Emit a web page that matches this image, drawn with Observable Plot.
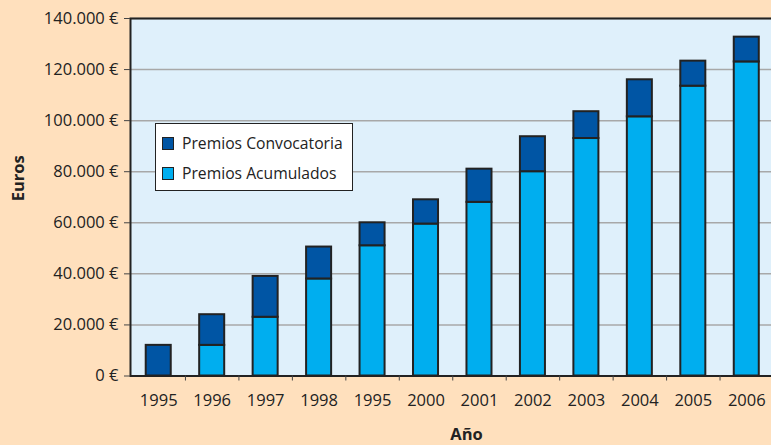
<!DOCTYPE html>
<html>
<head>
<meta charset="utf-8">
<script src="https://cdn.jsdelivr.net/npm/d3@7"></script>
<script src="https://cdn.jsdelivr.net/npm/@observablehq/plot@0.6"></script>
<style>
  html, body { margin: 0; padding: 0; background: #FFE0BD; }
  #wrap { position: relative; width: 771px; height: 445px; overflow: hidden; font-family: "Open Sans", sans-serif; color: #222; }
  #legend { position: absolute; left: 155px; top: 123px; width: 196px; height: 66px; background: #fff; border: 1.5px solid #222; }
  .row { position: absolute; left: 6px; display: flex; align-items: center; font-size: 15.7px; line-height: 18px; }
  .sw { width: 10px; height: 11px; border: 1.5px solid #222; margin-right: 8px; }
</style>
</head>
<body>
<div id="wrap"></div>
<script>
const years = ["1995","1996","1997","1998","1995","2000","2001","2002","2003","2004","2005","2006"];
const acumulados   = [0, 12000, 23000, 38000, 51000, 59500, 68000, 80000, 93000, 101500, 113500, 123000];
const convocatoria = [12000, 12000, 16000, 12500, 9000, 9500, 13000, 13700, 10500, 14500, 9800, 9700];
const yTicks = [0, 20000, 40000, 60000, 80000, 100000, 120000, 140000];
const seriesNames = ["Premios Convocatoria", "Premios Acumulados"];
const colors = {"Premios Convocatoria": "#0055A4", "Premios Acumulados": "#00AEEF"};

const rows = years.map((y, i) => ({i, year: y, acum: acumulados[i], conv: convocatoria[i]}));
const idx = years.map((_, i) => i);
const boundaries = idx.map(i => i + 0.5);
const hw = 0.234;
const fmt = d => d3.format(",")(d).replace(/,/g, ".") + " €";

const chart = Plot.plot({
  width: 771,
  height: 445,
  marginLeft: 130,
  marginRight: -2,
  marginTop: 18,
  marginBottom: 69.5,
  style: {background: "transparent", fontFamily: "Open Sans, sans-serif", fontSize: "16.5px", color: "#222"},
  x: {domain: [-0.5, 11.5], insetLeft: 1.5},
  y: {domain: [0, 140000]},
  marks: [
    Plot.frame({fill: "#DFF0FB", stroke: null}),
    Plot.ruleY(yTicks.slice(1), {stroke: "#A8A8A8", strokeWidth: 1.5}),
    Plot.rectY(rows.filter(d => d.acum > 0), {x1: d => d.i - hw, x2: d => d.i + hw, y1: 0, y2: "acum", fill: colors["Premios Acumulados"], stroke: "#222", strokeWidth: 2}),
    Plot.rectY(rows, {x1: d => d.i - hw, x2: d => d.i + hw, y1: "acum", y2: d => d.acum + d.conv, fill: colors["Premios Convocatoria"], stroke: "#222", strokeWidth: 2}),
    Plot.frame({stroke: "#222", strokeWidth: 2, fill: "none"}),
    Plot.axisY({ticks: yTicks, tickFormat: fmt, tickSize: 6, tickPadding: 6, label: null, stroke: "#444"}),
    Plot.axisX({ticks: idx, tickFormat: i => years[i], tickSize: 0, tickPadding: 18, label: null}),
    Plot.axisX({ticks: boundaries, tickFormat: () => "", tickSize: 5, label: null, stroke: "#444"}),
    Plot.text(["Euros"], {frameAnchor: "left", dx: -111.5, dy: 4, rotate: -90, fontWeight: "bold", fontSize: 16.5}),
    Plot.text(["Año"], {frameAnchor: "bottom", dx: 14.5, dy: 64, fontWeight: "bold", fontSize: 16.5})
  ]
});
const wrap = document.getElementById("wrap");
wrap.appendChild(chart);

const legend = document.createElement("div");
legend.id = "legend";
seriesNames.forEach((name, k) => {
  const row = document.createElement("div");
  row.className = "row";
  row.style.top = (10 + k * 30) + "px";
  const sw = document.createElement("div");
  sw.className = "sw";
  sw.style.background = colors[name];
  const t = document.createElement("span");
  t.textContent = name;
  row.appendChild(sw);
  row.appendChild(t);
  legend.appendChild(row);
});
wrap.appendChild(legend);
</script>
</body>
</html>
